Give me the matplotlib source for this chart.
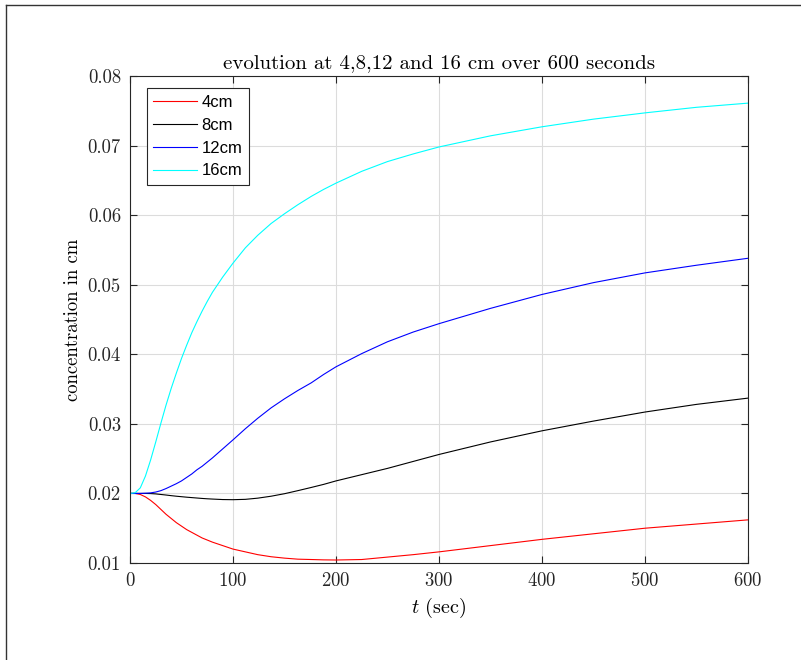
import matplotlib
matplotlib.use('Agg')
import matplotlib.pyplot as plt
from matplotlib.lines import Line2D
from matplotlib import font_manager
from matplotlib.font_manager import FontProperties

plt.rcParams['font.family'] = 'serif'
plt.rcParams['font.serif'] = ['cmr10', 'DejaVu Serif']
plt.rcParams['mathtext.fontset'] = 'cm'
plt.rcParams['axes.formatter.use_mathtext'] = True

# time points (sec) and concentrations
t = [0, 5, 10, 15, 20, 25, 30, 35, 40, 45, 50, 55, 60, 65, 70, 75, 80, 90,
     100, 112, 124, 137, 150, 163, 176, 188, 200, 225, 250, 275, 300, 350,
     400, 450, 500, 550, 600]
c4 = [0.0200, 0.0200, 0.01985, 0.0195, 0.0190, 0.0184, 0.0177, 0.0170, 0.0164,
      0.0158, 0.0153, 0.0148, 0.0144, 0.0140, 0.0136, 0.0133, 0.0130, 0.0125,
      0.0120, 0.0116, 0.0112, 0.0109, 0.0107, 0.01055, 0.0105, 0.01045,
      0.01043, 0.0105, 0.01085, 0.0112, 0.0116, 0.0125, 0.0134, 0.0142,
      0.0150, 0.0156, 0.0162]
c8 = [0.0200, 0.0200, 0.0200, 0.0200, 0.01998, 0.01993, 0.01985, 0.01977,
      0.01968, 0.01960, 0.01953, 0.01946, 0.01940, 0.01934, 0.01928, 0.01923,
      0.01919, 0.01912, 0.01910, 0.01915, 0.01932, 0.01960, 0.01996, 0.0204,
      0.02086, 0.0213, 0.0218, 0.0227, 0.0236, 0.0246, 0.0256, 0.0274, 0.0290,
      0.0304, 0.0317, 0.0328, 0.0337]
c12 = [0.0200, 0.0200, 0.0200, 0.02003, 0.02008, 0.0202, 0.0204, 0.0207,
       0.02105, 0.0214, 0.0218, 0.0223, 0.0228, 0.0234, 0.0239, 0.0245, 0.0251,
       0.0264, 0.0277, 0.0293, 0.0308, 0.0323, 0.0336, 0.0348, 0.0359, 0.0371,
       0.0382, 0.0401, 0.0418, 0.0432, 0.0444, 0.0466, 0.0486, 0.0503, 0.0517,
       0.0528, 0.0538]
c16 = [0.0200, 0.0201, 0.0208, 0.0225, 0.0248, 0.0274, 0.0301, 0.0327, 0.0351,
       0.0373, 0.0394, 0.0413, 0.0431, 0.0447, 0.0462, 0.0476, 0.0489, 0.0511,
       0.0531, 0.0553, 0.0571, 0.0588, 0.0602, 0.0615, 0.0627, 0.0637, 0.0646,
       0.0663, 0.0677, 0.0688, 0.0698, 0.0714, 0.0727, 0.0738, 0.0747, 0.0755,
       0.0761]
labels = ['4cm', '8cm', '12cm', '16cm']
colors = ['#ff0000', '#000000', '#0000ff', '#00ffff']

fig = plt.figure(figsize=(8.01, 6.60), dpi=100)
ax = fig.add_axes([130 / 801, 1 - 563 / 660, 618 / 801, 487 / 660])

for c, lab, col in zip([c4, c8, c12, c16], labels, colors):
    ax.plot(t, c, color=col, lw=0.8, label=lab)

ax.set_xlim(0, 600)
ax.set_ylim(0.01, 0.08)
ax.set_xticks([0, 100, 200, 300, 400, 500, 600])
ax.set_yticks([0.01, 0.02, 0.03, 0.04, 0.05, 0.06, 0.07, 0.08])
ax.set_yticklabels(['0.01', '0.02', '0.03', '0.04', '0.05', '0.06', '0.07', '0.08'])
ax.grid(True, color='#dcdcdc', lw=0.8)
ax.set_axisbelow(True)
ax.tick_params(direction='in', length=5, width=0.8, top=True, right=True,
               labelsize=13.5, colors='#262626', pad=6.5)
for s in ax.spines.values():
    s.set_color('#262626')
    s.set_linewidth(0.8)

ax.set_title('evolution at 4,8,12 and 16 cm over 600 seconds', fontsize=15, pad=6)
ax.set_xlabel('$t$ (sec)', fontsize=14.5, labelpad=4)
ax.set_ylabel('concentration in cm', fontsize=13.5, labelpad=4)

# regular (not narrow) Liberation Sans for the legend, like Helvetica
legfont = FontProperties(family='DejaVu Sans', size=12)
for f in font_manager.fontManager.ttflist:
    fn = f.fname.lower()
    if f.name == 'Liberation Sans' and 'narrow' not in fn and f.style == 'normal' \
            and f.weight in (400, 'normal', 'regular'):
        legfont = FontProperties(fname=f.fname, size=12)
        break

leg = ax.legend(loc='upper left', bbox_to_anchor=(0.027, 0.975), fancybox=False,
                framealpha=1, edgecolor='#262626', handlelength=2.6,
                handletextpad=0.3, labelspacing=0.47, borderpad=0.4,
                borderaxespad=0, prop=legfont)
leg.get_frame().set_linewidth(0.8)

# outer frame of the figure
fig.add_artist(Line2D([6 / 801, 6 / 801], [0, 1 - 5 / 660], color='#333333', lw=1))
fig.add_artist(Line2D([6 / 801, 1], [1 - 5 / 660, 1 - 5 / 660], color='#333333', lw=1))

fig.savefig('out.png', dpi=100)
